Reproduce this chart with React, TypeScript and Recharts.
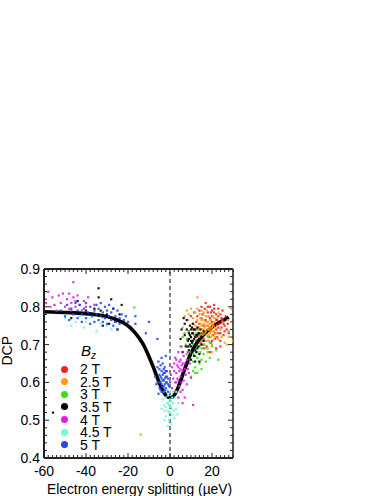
import React from "react";
import { ComposedChart, Scatter, Line, XAxis, YAxis, ReferenceLine } from "recharts";

type P = [number, number];
const fieldLabels = ["2 T", "2.5 T", "3 T", "3.5 T", "4 T", "4.5 T", "5 T"];
const fieldColors = ["#ff1f1f", "#ff9c1c", "#3ede12", "#000000", "#e01fe6", "#74f7d8", "#2447f0"];

const t2: P[] = [[9,0.735],[10,0.775],[11,0.74],[11.5,0.785],[12,0.7],[12.5,0.76],[13,0.775],[13,0.72],[13.5,0.745],[14,0.79],[14,0.755],[14.5,0.705],[15,0.77],[15,0.73],[15.5,0.78],[16,0.75],[16,0.715],[16.5,0.795],[17,0.765],[17,0.735],[17.5,0.695],[18,0.785],[18,0.75],[18.5,0.72],[19,0.8],[19,0.77],[19.5,0.74],[19.5,0.705],[20,0.79],[20,0.76],[20.5,0.725],[21,0.795],[21,0.75],[21.5,0.715],[22,0.78],[22,0.74],[22.5,0.765],[23,0.795],[23,0.73],[23.5,0.755],[24,0.78],[24,0.71],[24.5,0.745],[25,0.765],[25.5,0.725],[26,0.75],[26.5,0.775],[27,0.74],[28,0.73],[25,0.79],[21,0.805],[17,0.81],[15,0.8],[22,0.69],[19,0.68],[16,0.69],[24,0.695],[27.5,0.755],[20,0.775],[21,0.785],[22,0.765],[23,0.775],[18,0.8],[19.5,0.785],[24.5,0.77],[25.5,0.755],[26,0.735],[23,0.745],[21.5,0.73],[20,0.71],[22.5,0.72],[24,0.73]];
const t25: P[] = [[6,0.745],[7,0.775],[8,0.79],[8.5,0.765],[9,0.78],[10,0.795],[10.5,0.755],[11,0.77],[12,0.785],[12,0.75],[12.5,0.73],[13,0.795],[13,0.765],[13.5,0.74],[14,0.78],[14,0.72],[14.5,0.755],[15,0.79],[15,0.765],[15.5,0.74],[15.5,0.71],[16,0.78],[16,0.755],[16.5,0.73],[16.5,0.7],[17,0.775],[17,0.75],[17.5,0.725],[17.5,0.79],[18,0.76],[18,0.74],[18.5,0.71],[18.5,0.775],[19,0.755],[19,0.73],[19.5,0.765],[19.5,0.72],[20,0.745],[20,0.7],[20.5,0.775],[20.5,0.735],[21,0.76],[21,0.715],[21.5,0.745],[22,0.73],[22,0.77],[22.5,0.75],[23,0.715],[23,0.785],[24,0.74],[24.5,0.72],[25,0.76],[26,0.705],[27,0.7],[28,0.72],[13,0.825],[16,0.785],[27.5,0.765],[29,0.795],[30,0.71],[-14,0.462],[14.5,0.7],[18,0.69],[20,0.68],[14.5,0.77],[15,0.75],[15.5,0.725],[16,0.765],[16.5,0.745],[17,0.76],[17,0.735],[17.5,0.71],[18,0.775],[18,0.75],[18.5,0.725],[19,0.745],[19,0.765],[19.5,0.735],[20,0.755],[20,0.725],[20.5,0.75],[21,0.735],[21,0.77],[21.5,0.72],[18.5,0.74],[16,0.74],[14,0.745]];
const t3: P[] = [[-17,0.798],[5,0.695],[6,0.72],[7,0.73],[7.5,0.7],[8,0.715],[8,0.675],[9,0.735],[9,0.695],[9.5,0.66],[10,0.72],[10,0.68],[10.5,0.745],[11,0.7],[11,0.655],[11.5,0.725],[12,0.685],[12,0.64],[12.5,0.71],[13,0.74],[13,0.665],[13.5,0.695],[14,0.725],[14,0.65],[14.5,0.68],[15,0.71],[15,0.66],[15.5,0.7],[16,0.73],[16,0.675],[16.5,0.71],[17,0.69],[17,0.655],[18,0.72],[18,0.68],[19,0.705],[20,0.695],[13,0.625],[12,0.625],[11,0.63],[15,0.635],[19,0.665],[22,0.685],[28,0.735],[10,0.615],[23,0.66],[13,0.68],[14,0.695],[15,0.69],[16,0.7],[12,0.67],[11,0.675]];
const t35: P[] = [[-47,0.77],[-44,0.815],[-40,0.79],[-36,0.795],[-34,0.849],[-34,0.825],[-33,0.79],[-32,0.75],[-30,0.78],[-29,0.755],[-28,0.82],[-27,0.795],[-26,0.76],[-25,0.74],[-24,0.78],[-23,0.805],[-22,0.76],[-55.7,0.52],[5,0.715],[5.5,0.74],[6,0.68],[6.5,0.77],[7,0.755],[7,0.725],[7.5,0.695],[8,0.74],[8,0.765],[8.5,0.71],[9,0.73],[9,0.685],[9.5,0.75],[9.5,0.7],[10,0.72],[10,0.74],[10.5,0.68],[10.5,0.705],[11,0.73],[11,0.755],[11,0.69],[11.5,0.715],[11.5,0.67],[12,0.74],[12,0.7],[12.5,0.725],[12.5,0.68],[13,0.71],[13,0.745],[13.5,0.695],[13.5,0.73],[14,0.715],[14,0.675],[14.5,0.74],[15,0.7],[15,0.72],[16,0.735],[16,0.71],[12,0.655],[14,0.655],[10,0.66],[9,0.715],[9.5,0.725],[10,0.695],[10.5,0.73],[11,0.71],[11.5,0.695],[12,0.72],[12.5,0.705],[13,0.69],[13,0.725],[13.5,0.71],[14,0.73],[10.5,0.745],[11.5,0.74],[8.5,0.695],[9,0.67],[12,0.685],[10,0.71]];
const t4: P[] = [[-59,0.81],[-58,0.84],[-57,0.8],[-56,0.825],[-55,0.805],[-54,0.79],[-53,0.83],[-52,0.81],[-51,0.835],[-50,0.8],[-46,0.865],[-49,0.82],[-48,0.835],[-48,0.795],[-47,0.81],[-47,0.79],[-46,0.825],[-45,0.8],[-45,0.815],[-44,0.83],[-43,0.805],[-42,0.79],[-41,0.815],[-40,0.8],[-39,0.825],[-36,0.805],[0.5,0.62],[1,0.64],[1,0.585],[1.5,0.61],[2,0.65],[2,0.63],[2.5,0.6],[2.5,0.665],[3,0.625],[3,0.575],[3.5,0.645],[4,0.605],[4,0.68],[4.5,0.63],[4.5,0.59],[5,0.66],[5,0.615],[5.5,0.645],[5.5,0.695],[6,0.58],[6,0.63],[6.5,0.67],[6.5,0.605],[7,0.65],[7,0.56],[7.5,0.62],[8,0.66],[8,0.595],[8.5,0.635],[8.5,0.68],[9,0.625],[9.5,0.65],[10,0.612],[11,0.54],[6,0.545],[4,0.56],[3,0.66],[3.5,0.61],[4,0.64],[4.5,0.655],[5,0.635],[5.5,0.6],[6,0.65],[7,0.635],[5,0.575],[3,0.6]];
const t45: P[] = [[-50,0.77],[-47,0.75],[-45,0.76],[-43,0.775],[-41,0.745],[-40,0.76],[-38,0.77],[-35,0.735],[-33,0.755],[-30,0.75],[-28,0.74],[-4,0.53],[-3.5,0.555],[-3,0.54],[-3,0.575],[-2.5,0.525],[-2,0.56],[-2,0.51],[-1.5,0.545],[-1.5,0.58],[-1,0.525],[-1,0.565],[-0.5,0.54],[-0.5,0.5],[0,0.555],[0,0.52],[0,0.575],[0.5,0.535],[0.5,0.49],[1,0.56],[1,0.515],[1.5,0.545],[1.5,0.575],[2,0.525],[2,0.505],[2.5,0.56],[3,0.53],[3,0.575],[3.5,0.515],[4,0.545],[-1,0.485],[-2.5,0.5],[-1,0.545],[0,0.535],[0.5,0.55],[1,0.53],[-0.5,0.52],[-2,0.535]];
const t5: P[] = [[-52,0.79],[-50,0.775],[-49,0.805],[-48,0.765],[-47,0.795],[-46,0.78],[-45,0.81],[-44,0.77],[-44,0.79],[-43,0.805],[-42,0.76],[-42,0.78],[-41,0.795],[-40,0.77],[-40,0.81],[-39,0.785],[-38,0.755],[-38,0.8],[-37,0.775],[-36,0.79],[-36,0.76],[-35,0.805],[-35,0.78],[-34,0.765],[-34,0.795],[-33,0.775],[-33,0.81],[-32,0.785],[-32,0.76],[-31,0.8],[-31,0.77],[-30,0.79],[-30,0.755],[-29,0.775],[-29,0.805],[-28,0.765],[-28,0.785],[-27,0.75],[-27,0.795],[-26,0.775],[-26,0.76],[-25,0.79],[-25,0.74],[-24,0.77],[-24,0.755],[-23,0.78],[-22,0.765],[-21,0.775],[-20,0.76],[-16.5,0.775],[-16.5,0.755],[-10,0.76],[-11.5,0.73],[-6,0.715],[-2,0.67],[-4,0.665],[-6,0.64],[-5.5,0.655],[-5,0.62],[-5,0.6],[-4.5,0.645],[-4.5,0.58],[-4,0.63],[-4,0.61],[-3.5,0.59],[-3.5,0.65],[-3,0.625],[-3,0.605],[-3,0.575],[-2.5,0.64],[-2.5,0.595],[-2,0.615],[-2,0.585],[-1.5,0.63],[-1.5,0.6],[-1,0.575],[-1,0.61],[-0.5,0.59],[-7,0.615],[-6.5,0.595],[-5.5,0.57],[0,0.6],[-5,0.635],[-4.5,0.615],[-4,0.595],[-3.5,0.62],[-3.5,0.605],[-3,0.635],[-3,0.59],[-2.5,0.61],[-2.5,0.625],[-2,0.6],[-2,0.63],[-1.5,0.615],[-5,0.585],[-4.5,0.6],[-6,0.6],[-1,0.595],[-2.5,0.58],[-4,0.575]];
const fieldSeries = [t2, t25, t3, t35, t4, t45, t5];

const fitX = [-60, -50, -40, -35, -30, -26, -22, -19, -16, -13, -10, -8, -6, -4, -2, 0, 1, 2, 4, 6, 8, 10, 12, 15, 18, 21, 24, 28];
const fitY = [0.787, 0.785, 0.782, 0.779, 0.774, 0.767, 0.757, 0.745, 0.727, 0.703, 0.668, 0.641, 0.612, 0.585, 0.566, 0.56, 0.561, 0.566, 0.588, 0.62, 0.65, 0.677, 0.698, 0.72, 0.737, 0.75, 0.76, 0.772];
const fit = fitX.map((x, i) => ({ x, y: fitY[i] }));

const xMajor = [-60, -40, -20, 0, 20];
const yMajor = [0.4, 0.5, 0.6, 0.7, 0.8, 0.9];
const xTicks = [-60,-58,-56,-54,-52,-50,-48,-46,-44,-42,-40,-38,-36,-34,-32,-30,-28,-26,-24,-22,-20,-18,-16,-14,-12,-10,-8,-6,-4,-2,0,2,4,6,8,10,12,14,16,18,20,22,24,26,28,30];
const yTicks = [0.4,0.42,0.44,0.46,0.48,0.5,0.52,0.54,0.56,0.58,0.6,0.62,0.64,0.66,0.68,0.7,0.72,0.74,0.76,0.78,0.8,0.82,0.84,0.86,0.88,0.9];

const FONT = "'Liberation Sans', Arial, sans-serif";
const AXIS = "#222";

const tickX = (dir: number, label: boolean) => (p: any) => {
  const v = p.payload.value;
  const major = xMajor.includes(v);
  const len = major ? 5 : 3;
  return (
    <g>
      <line x1={p.x} x2={p.x} y1={p.y} y2={p.y + dir * len} stroke={AXIS} strokeWidth={1} />
      {label && major ? (
        <text x={p.x} y={p.y + 18} textAnchor="middle" fontSize={14} fontFamily={FONT} fill="#000">{v}</text>
      ) : null}
    </g>
  );
};
const tickY = (dir: number, label: boolean) => (p: any) => {
  const v = p.payload.value;
  const major = yMajor.includes(v);
  const len = major ? 5 : 3;
  return (
    <g>
      <line x1={p.x} x2={p.x + dir * len} y1={p.y} y2={p.y} stroke={AXIS} strokeWidth={1} />
      {label && major ? (
        <text x={p.x - 4} y={p.y + 5} textAnchor="end" fontSize={14} fontFamily={FONT} fill="#000">{v.toFixed(1)}</text>
      ) : null}
    </g>
  );
};

const dot = (color: string) => (p: any) => <rect x={p.cx - 1.1} y={p.cy - 1.1} width={2.2} height={2.2} fill={color} opacity={0.9} />;

const LegendBox = () => (
  <div style={{ position: "absolute", left: 49, top: 343, fontFamily: FONT, fontSize: 14, color: "#000", width: 70, height: 110 }}>
    <div style={{ position: "absolute", left: 32, top: 0, lineHeight: "16px", fontStyle: "italic", fontSize: 15 }}>
      B<sub style={{ fontSize: 10, verticalAlign: "-3px", lineHeight: 0 }}>z</sub>
    </div>
    {fieldLabels.map((t, i) => (
      <div key={t} style={{ position: "absolute", left: 0, top: 19 + i * 12.65, height: 12, width: 70 }}>
        <span style={{ position: "absolute", left: 12, top: 3.5, width: 7, height: 7, borderRadius: 4, background: fieldColors[i] }} />
        <span style={{ position: "absolute", left: 31, top: 0, lineHeight: "14px", whiteSpace: "nowrap" }}>{t}</span>
      </div>
    ))}
  </div>
);

const axisProps = { tickSize: 0, tickMargin: 0, tickLine: false, allowDataOverflow: true, interval: 0 as const, type: "number" as const };

export default function App() {
  return (
    <div style={{ position: "absolute", left: 0, top: 0, width: 383, height: 496, background: "#fff" }}>
      <ComposedChart width={383} height={496} margin={{ top: 268, right: 149, bottom: 0, left: 0 }}>
        <XAxis {...axisProps} xAxisId="b" dataKey="x" domain={[-60, 30]} ticks={xTicks} height={38} tick={tickX(-1, true)} axisLine={{ stroke: AXIS, strokeWidth: 2 }}
          label={{ value: "Electron energy splitting (\u00b5eV)", position: "insideBottom", offset: 2, fontSize: 13.8, fontFamily: FONT, fill: "#000", dx: 1 }} />
        <XAxis {...axisProps} xAxisId="t" orientation="top" dataKey="x" domain={[-60, 30]} ticks={xTicks} height={1} tick={tickX(1, false)} axisLine={{ stroke: AXIS, strokeWidth: 2 }} />
        <YAxis {...axisProps} yAxisId="l" dataKey="y" domain={[0.4, 0.9]} ticks={yTicks} width={44} tick={tickY(1, true)} axisLine={{ stroke: AXIS, strokeWidth: 2 }}
          label={{ value: "DCP", angle: -90, position: "insideLeft", offset: 0, fontSize: 14, fontFamily: FONT, fill: "#000", dx: 7, dy: 2 }} />
        <YAxis {...axisProps} yAxisId="r" orientation="right" dataKey="y" domain={[0.4, 0.9]} ticks={yTicks} width={1} tick={tickY(-1, false)} axisLine={{ stroke: "#555", strokeWidth: 2 }} />
        {fieldSeries.map((pts, i) => (
          <Scatter key={fieldLabels[i]} name={fieldLabels[i]} xAxisId="b" yAxisId="l" data={pts.map(([x, y]) => ({ x, y }))} fill={fieldColors[i]} shape={dot(fieldColors[i])} isAnimationActive={false} />
        ))}
        <ReferenceLine xAxisId="b" yAxisId="l" x={0} stroke="#000" strokeWidth={1} strokeDasharray="4 3" />
        <Line xAxisId="b" yAxisId="l" data={fit} dataKey="y" type="monotone" stroke="#000" strokeWidth={3.6} dot={false} isAnimationActive={false} />
        <Line xAxisId="t" yAxisId="r" data={fit} dataKey="y" stroke="none" strokeWidth={0} dot={false} isAnimationActive={false} />
      </ComposedChart>
      <LegendBox />
    </div>
  );
}
